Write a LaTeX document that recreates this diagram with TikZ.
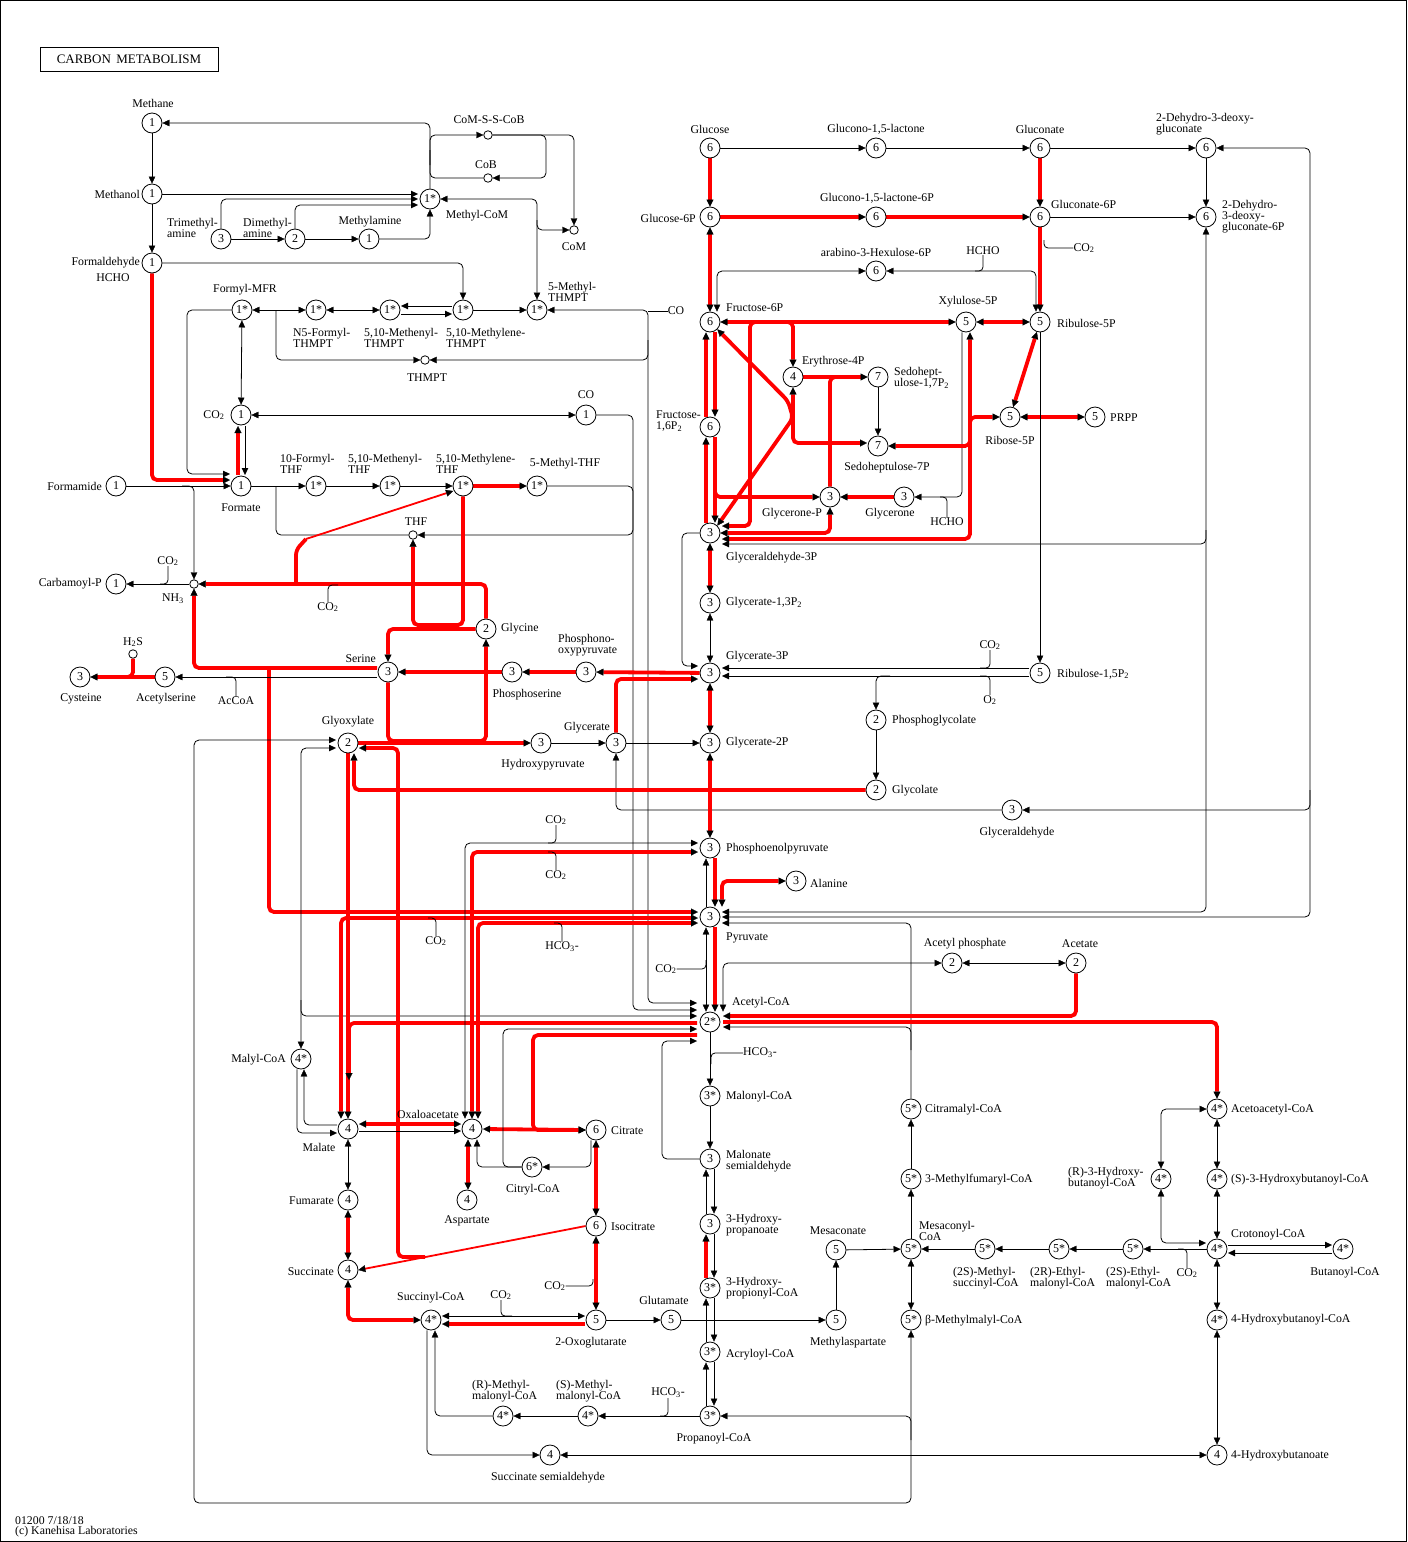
\documentclass[tikz,border=0pt]{standalone}
\usepackage{fontspec}
\setmainfont{Liberation Serif}
\usetikzlibrary{arrows.meta,calc}
\pgfdeclarelayer{bg}
\pgfsetlayers{bg,main}
\begin{document}
\begin{tikzpicture}[x=1pt,y=-1pt,
  >={Triangle[length=7pt,width=6.5pt,line width=0.3pt]},
  ln/.style={line width=0.8pt,rounded corners=5pt},
  rd/.style={draw=red,line width=3.8pt,rounded corners=5pt,>={Triangle[length=7pt,width=7pt,line width=0.3pt,color=black]}},
  rdt/.style={draw=red,line width=1.8pt,>={Triangle[length=7pt,width=7pt,line width=0.3pt,color=black]}},
  cp/.style={circle,draw,line width=0.8pt,minimum size=20pt,inner sep=0pt,font=\fontsize{12}{12}\selectfont,fill=white},
  sm/.style={circle,draw,line width=0.8pt,minimum size=8.5pt,inner sep=0pt,fill=white},
  lab/.style={font=\fontsize{11.8}{11}\selectfont,inner sep=0pt,align=left},
]
\useasboundingbox (0,0) rectangle (1408,1542);
\draw[line width=1pt] (0.5,0.5) rectangle (1406.5,1541.5);
\node[draw,line width=0.8pt,minimum width=178pt,minimum height=24pt,inner sep=0pt,font=\fontsize{13}{13}\selectfont] (title) at (129,59) {CARBON\, METABOLISM};

% ---------- compounds ----------
\node[cp] (meth) at (152,123) {1};
\node[cp] (mol) at (152,194) {1};
\node[cp] (fald) at (152,263) {1};
\node[cp] (tma) at (221,239) {3};
\node[cp] (dma) at (295,239) {2};
\node[cp] (mma) at (369,239) {1};
\node[cp] (mcom) at (430,199) {1*};
\node[sm] (cossc) at (488,135) {};
\node[sm] (cob) at (488,178) {};
\node[sm] (com) at (574,230) {};
\node[cp] (fmfr) at (242,310) {1*};
\node[cp] (n5f) at (316,310) {1*};
\node[cp] (mthmpt) at (390,310) {1*};
\node[cp] (mlthmpt) at (463,310) {1*};
\node[cp] (methmpt) at (537,310) {1*};
\node[sm] (thmpt) at (425,360) {};
\node[cp] (co2a) at (241,415) {1};
\node[cp] (coa) at (586,415) {1};
\node[cp] (formate) at (241,486) {1};
\node[cp] (formamide) at (116,486) {1};
\node[cp] (fthf) at (316,486) {1*};
\node[cp] (mythf) at (390,486) {1*};
\node[cp] (mlthf) at (463,486) {1*};
\node[cp] (methf) at (537,486) {1*};
\node[sm] (thf) at (413,535) {};
\node[sm] (nh3) at (194,584) {};
\node[cp] (cbp) at (116,584) {1};
\node[sm] (h2s) at (133,654) {};
\node[cp] (cys) at (80,677) {3};
\node[cp] (acser) at (165,677) {5};
\node[cp] (ser) at (388,672) {3};
\node[cp] (gly) at (486,629) {2};
\node[cp] (pser) at (512,672) {3};
\node[cp] (pop) at (586,672) {3};
\node[cp] (glx) at (348,743) {2};
\node[cp] (hpyr) at (541,743) {3};
\node[cp] (glyc) at (616,743) {3};

\node[cp] (glc) at (710,148) {6};
\node[cp] (g6p) at (710,217) {6};
\node[cp] (f6p) at (710,322) {6};
\node[cp] (f16p) at (710,427) {6};
\node[cp] (ga3p) at (710,533) {3};
\node[cp] (g13p) at (710,603) {3};
\node[cp] (g3p) at (710,673) {3};
\node[cp] (g2p) at (710,743) {3};
\node[cp] (pep) at (710,848) {3};
\node[cp] (pyr) at (710,917) {3};
\node[cp] (accoa) at (710,1022) {2*};
\node[cp] (malcoa) at (710,1096) {3*};
\node[cp] (msa) at (710,1159) {3};
\node[cp] (hp) at (710,1224) {3};
\node[cp] (hpcoa) at (710,1288) {3*};
\node[cp] (acrcoa) at (710,1352) {3*};
\node[cp] (procoa) at (710,1416) {3*};
\node[cp] (ala) at (796,881) {3};

\node[cp] (gl15) at (876,148) {6};
\node[cp] (gln) at (1040,148) {6};
\node[cp] (kdg) at (1206,148) {6};
\node[cp] (gl15p) at (876,217) {6};
\node[cp] (gln6p) at (1040,217) {6};
\node[cp] (kdpg) at (1206,217) {6};
\node[cp] (hu6p) at (876,271) {6};
\node[cp] (xu5p) at (966,322) {5};
\node[cp] (ru5p) at (1040,322) {5};
\node[cp] (e4p) at (793,377) {4};
\node[cp] (s17p) at (878,377) {7};
\node[cp] (s7p) at (878,446) {7};
\node[cp] (r5p) at (1010,417) {5};
\node[cp] (prpp) at (1095,417) {5};
\node[cp] (dhap) at (830,497) {3};
\node[cp] (glyn) at (904,497) {3};
\node[cp] (rubp) at (1040,673) {5};
\node[cp] (pglyc) at (876,720) {2};
\node[cp] (glyco) at (876,790) {2};
\node[cp] (glyald) at (1012,810) {3};
\node[cp] (acp) at (952,963) {2};
\node[cp] (ace) at (1076,963) {2};

\node[cp] (malyl) at (301,1059) {4*};
\node[cp] (mal) at (348,1129) {4};
\node[cp] (oaa) at (472,1129) {4};
\node[cp] (cit) at (596,1130) {6};
\node[cp] (citcoa) at (532,1167) {6*};
\node[cp] (asp) at (467,1200) {4};
\node[cp] (fum) at (348,1200) {4};
\node[cp] (suc) at (348,1270) {4};
\node[cp] (succoa) at (431,1320) {4*};
\node[cp] (oxg) at (596,1320) {5};
\node[cp] (glu) at (671,1320) {5};
\node[cp] (icit) at (596,1226) {6};
\node[cp] (mas) at (836,1320) {5};
\node[cp] (mesa) at (836,1250) {5};
\node[cp] (rmm) at (503,1416) {4*};
\node[cp] (smm) at (588,1416) {4*};
\node[cp] (ssa) at (550,1455) {4};

\node[cp] (citmcoa) at (911,1109) {5*};
\node[cp] (mfcoa) at (911,1179) {5*};
\node[cp] (mescoa) at (911,1249) {5*};
\node[cp] (bmmcoa) at (911,1320) {5*};
\node[cp] (msucoa) at (985,1249) {5*};
\node[cp] (remcoa) at (1059,1249) {5*};
\node[cp] (semcoa) at (1133,1249) {5*};
\node[cp] (crocoa) at (1217,1249) {4*};
\node[cp] (butcoa) at (1343,1249) {4*};
\node[cp] (aacoa) at (1217,1109) {4*};
\node[cp] (shb) at (1217,1179) {4*};
\node[cp] (rhb) at (1161,1179) {4*};
\node[cp] (hbcoa) at (1217,1320) {4*};
\node[cp] (hb) at (1217,1455) {4};

% ---------- labels ----------
\node[lab] (tMethane) at (153,103) {Methane};
\node[lab,anchor=east] (tMethanol) at (140,194) {Methanol};
\node[lab,anchor=east] (tFald) at (140,263) {Formaldehyde};
\node[lab] (tHCHOa) at (113,278) {HCHO};
\node[lab,anchor=west] (tTMA) at (167,228) {Trimethyl-\\amine};
\node[lab,anchor=west] (tDMA) at (243,228) {Dimethyl-\\amine};
\node[lab] (tMMA) at (370,222) {Methylamine};
\node[lab] (tMCoM) at (477,216) {Methyl-CoM};
\node[lab] (tCoMSS) at (489,120) {CoM-S-S-CoB};
\node[lab] (tCoB) at (486,165) {CoB};
\node[lab] (tCoM) at (574,247) {CoM};
\node[lab] (tFMFR) at (245,290) {Formyl-MFR};
\node[lab,anchor=west] (tN5) at (293,338) {N5-Formyl-\\THMPT};
\node[lab,anchor=west] (tMTHMPT) at (364,338) {5,10-Methenyl-\\THMPT};
\node[lab,anchor=west] (tMLTHMPT) at (446,338) {5,10-Methylene-\\THMPT};
\node[lab,anchor=west] (tMeTHMPT) at (548,292) {5-Methyl-\\THMPT};
\node[lab] (tTHMPT) at (427,378) {THMPT};
\node[lab] (tCO2a) at (214,415) {CO\textsubscript{2}};
\node[lab] (tCOa) at (676,311) {CO};
\node[lab] (tCOb) at (586,395) {CO};
\node[lab] (tFormate) at (241,508) {Formate};
\node[lab,anchor=east] (tFormamide) at (102,486) {Formamide};
\node[lab,anchor=west] (tFTHF) at (280,464) {10-Formyl-\\THF};
\node[lab,anchor=west] (tMYTHF) at (348,464) {5,10-Methenyl-\\THF};
\node[lab,anchor=west] (tMLTHF) at (436,464) {5,10-Methylene-\\THF};
\node[lab] (tMETHF) at (565,464) {5-Methyl-THF};
\node[lab] (tTHF) at (416,522) {THF};
\node[lab] (tNH3) at (173,599) {NH\textsubscript{3}};
\node[lab,anchor=east] (tCbp) at (102,584) {Carbamoyl-P};
\node[lab] (tCO2b) at (168,561) {CO\textsubscript{2}};
\node[lab] (tCO2c) at (328,607) {CO\textsubscript{2}};
\node[lab] (tH2S) at (133,642) {H\textsubscript{2}S};
\node[lab] (tCys) at (81,699) {Cysteine};
\node[lab] (tAcser) at (166,699) {Acetylserine};
\node[lab] (tAcCoA) at (236,701) {AcCoA};
\node[lab,anchor=east] (tSer) at (376,659) {Serine};
\node[lab,anchor=west] (tGly) at (501,629) {Glycine};
\node[lab] (tPser) at (527,695) {Phosphoserine};
\node[lab,anchor=west] (tPop) at (558,645) {Phosphono-\\oxypyruvate};
\node[lab] (tGlx) at (348,722) {Glyoxylate};
\node[lab] (tHpyr) at (543,765) {Hydroxypyruvate};
\node[lab] (tGlyc) at (587,728) {Glycerate};

\node[lab] (tGlc) at (710,129) {Glucose};
\node[lab,anchor=east] (tG6P) at (696,218) {Glucose-6P};
\node[lab,anchor=west] (tF6P) at (726,308) {Fructose-6P};
\node[lab,anchor=west] (tF16P) at (656,421) {Fructose-\\1,6P\textsubscript{2}};
\node[lab,anchor=west] (tGA3P) at (726,558) {Glyceraldehyde-3P};
\node[lab,anchor=west] (tG13P) at (726,603) {Glycerate-1,3P\textsubscript{2}};
\node[lab,anchor=west] (tG3P) at (726,657) {Glycerate-3P};
\node[lab,anchor=west] (tG2P) at (726,743) {Glycerate-2P};
\node[lab,anchor=west] (tPEP) at (726,849) {Phosphoenolpyruvate};
\node[lab,anchor=west] (tAla) at (810,883) {Alanine};
\node[lab,anchor=west] (tPyr) at (726,938) {Pyruvate};
\node[lab,anchor=west] (tAcCoA2) at (732,1003) {Acetyl-CoA};
\node[lab,anchor=west] (tMalCoA) at (726,1097) {Malonyl-CoA};
\node[lab,anchor=west] (tMSA) at (726,1161) {Malonate\\semialdehyde};
\node[lab,anchor=west] (tHP) at (726,1225) {3-Hydroxy-\\propanoate};
\node[lab,anchor=west] (tHPCoA) at (726,1288) {3-Hydroxy-\\propionyl-CoA};
\node[lab,anchor=west] (tAcr) at (726,1355) {Acryloyl-CoA};
\node[lab] (tPro) at (714,1439) {Propanoyl-CoA};
\node[lab,anchor=west] (tSMM) at (556,1391) {(S)-Methyl-\\malonyl-CoA};
\node[lab,anchor=west] (tRMM) at (472,1391) {(R)-Methyl-\\malonyl-CoA};
\node[lab] (tHCO3a) at (668,1393) {HCO\textsubscript{3}-};
\node[lab] (tSucCoA) at (431,1298) {Succinyl-CoA};
\node[lab] (tCO2d) at (501,1295) {CO\textsubscript{2}};
\node[lab] (tOxg) at (591,1343) {2-Oxoglutarate};
\node[lab] (tGlu) at (664,1300) {Glutamate};
\node[lab,anchor=west] (tMas) at (810,1343) {Methylaspartate};
\node[lab] (tMesa) at (838,1231) {Mesaconate};
\node[lab] (tSSA) at (548,1478) {Succinate semialdehyde};
\node[lab,anchor=west] (tHB) at (1231,1456) {4-Hydroxybutanoate};
\node[lab,anchor=west] (tCit) at (611,1131) {Citrate};
\node[lab,anchor=west] (tIcit) at (611,1227) {Isocitrate};
\node[lab] (tCitCoA) at (533,1190) {Citryl-CoA};
\node[lab] (tOAA) at (428,1114) {Oxaloacetate};
\node[lab] (tAsp) at (467,1221) {Aspartate};
\node[lab] (tMal) at (319,1147) {Malate};
\node[lab,anchor=east] (tFum) at (334,1201) {Fumarate};
\node[lab,anchor=east] (tSuc) at (334,1272) {Succinate};
\node[lab,anchor=east] (tMalyl) at (286,1060) {Malyl-CoA};
\node[lab] (tCO2e) at (556,820) {CO\textsubscript{2}};
\node[lab] (tCO2f) at (556,875) {CO\textsubscript{2}};
\node[lab] (tCO2g) at (436,941) {CO\textsubscript{2}};
\node[lab] (tHCO3b) at (562,947) {HCO\textsubscript{3}-};
\node[lab] (tCO2h) at (666,969) {CO\textsubscript{2}};
\node[lab,anchor=west] (tHCO3c) at (743,1053) {HCO\textsubscript{3}-};
\node[lab] (tCO2i) at (555,1286) {CO\textsubscript{2}};
\node[lab] (tAcp) at (965,944) {Acetyl phosphate};
\node[lab] (tAce) at (1080,944) {Acetate};

\node[lab] (tGl15) at (876,129) {Glucono-1,5-lactone};
\node[lab] (tGln) at (1040,129) {Gluconate};
\node[lab,anchor=west] (tKDG) at (1156,124) {2-Dehydro-3-deoxy-\\gluconate};
\node[lab] (tGl15p) at (877,198) {Glucono-1,5-lactone-6P};
\node[lab,anchor=west] (tGln6p) at (1051,204) {Gluconate-6P};
\node[lab,anchor=west] (tKDPG) at (1222,217) {2-Dehydro-\\3-deoxy-\\gluconate-6P};
\node[lab] (tCO2j) at (1084,248) {CO\textsubscript{2}};
\node[lab] (tHu6p) at (876,252) {arabino-3-Hexulose-6P};
\node[lab] (tHCHOb) at (983,251) {HCHO};
\node[lab] (tXu5P) at (968,302) {Xylulose-5P};
\node[lab,anchor=west] (tRu5P) at (1057,323) {Ribulose-5P};
\node[lab,anchor=west] (tE4P) at (802,362) {Erythrose-4P};
\node[lab,anchor=west] (tS17P) at (894,378) {Sedohept-\\ulose-1,7P\textsubscript{2}};
\node[lab] (tS7P) at (887,468) {Sedoheptulose-7P};
\node[lab] (tR5P) at (1010,440) {Ribose-5P};
\node[lab,anchor=west] (tPRPP) at (1110,418) {PRPP};
\node[lab] (tDHAP) at (792,514) {Glycerone-P};
\node[lab] (tGlyn) at (890,514) {Glycerone};
\node[lab] (tHCHOc) at (947,522) {HCHO};
\node[lab,anchor=west] (tRuBP) at (1057,674) {Ribulose-1,5P\textsubscript{2}};
\node[lab] (tCO2k) at (990,645) {CO\textsubscript{2}};
\node[lab] (tO2) at (990,700) {O\textsubscript{2}};
\node[lab,anchor=west] (tPglyc) at (892,721) {Phosphoglycolate};
\node[lab,anchor=west] (tGlyco) at (892,791) {Glycolate};
\node[lab] (tGlyald) at (1017,833) {Glyceraldehyde};

\node[lab,anchor=west] (tCitm) at (925,1110) {Citramalyl-CoA};
\node[lab,anchor=west] (tMf) at (925,1180) {3-Methylfumaryl-CoA};
\node[lab,anchor=west] (tMes) at (919,1231) {Mesaconyl-\\CoA};
\node[lab,anchor=west] (tBmm) at (925,1321) {β-Methylmalyl-CoA};
\node[lab,anchor=west] (tMsu) at (953,1278) {(2S)-Methyl-\\succinyl-CoA};
\node[lab,anchor=west] (tRem) at (1030,1278) {(2R)-Ethyl-\\malonyl-CoA};
\node[lab,anchor=west] (tSem) at (1106,1278) {(2S)-Ethyl-\\malonyl-CoA};
\node[lab] (tCO2l) at (1187,1273) {CO\textsubscript{2}};
\node[lab,anchor=west] (tCro) at (1231,1235) {Crotonoyl-CoA};
\node[lab] (tBut) at (1345,1273) {Butanoyl-CoA};
\node[lab,anchor=west] (tAa) at (1231,1110) {Acetoacetyl-CoA};
\node[lab,anchor=west] (tShb) at (1231,1180) {(S)-3-Hydroxybutanoyl-CoA};
\node[lab,anchor=west] (tRhb) at (1068,1178) {(R)-3-Hydroxy-\\butanoyl-CoA};
\node[lab,anchor=west] (tHbcoa) at (1231,1320) {4-Hydroxybutanoyl-CoA};

\node[lab,anchor=west] (tFoot1) at (15,1521) {01200 7/18/18};
\node[lab,anchor=west] (tFoot2) at (15,1532) {(c) Kanehisa Laboratories};

% ---------- connectors ----------
\begin{pgfonlayer}{bg}
% methane / methanol
\draw[ln,->] (meth) -- (mol);
\draw[ln,->] (mol) -- (fald);
\draw[ln,->] (mol.east) -- ($(mcom)+(-12,-5)$);
\draw[ln,->] (tma.north) |- ($(mcom)+(-12,0)$);
\draw[ln,->] (dma.north) |- ($(mcom)+(-12,6)$);
\draw[ln,->] (tma) -- (dma);
\draw[ln,->] (dma) -- (mma);
\draw[ln,->] (mma.east) -| (mcom.south);
\draw[ln,->] (mcom.north) |- (meth.east);
\draw[ln,->] (430,165) |- (cossc.west);
\draw[ln] (430,150) |- (cob.west);
\draw[ln,->] (cossc.east) -| (546,160) |- (cob.east);
\draw[ln,->] (cossc.east) -| (com.north);
\draw[ln,<->] (mcom.east) -| (methmpt.north);
\draw[ln,->] (537,220) |- (com.west);
% THMPT
\draw[ln,->] (fald.east) -| (mlthmpt.north);
\draw[ln,<->] (fmfr) -- (n5f);
\draw[ln,<->] (n5f) -- (mthmpt);
\draw[ln,->] ($(mlthmpt)+(-11,-4)$) -- ($(mthmpt)+(11,-4)$);
\draw[ln,->] ($(mthmpt)+(11,4)$) -- ($(mlthmpt)+(-11,4)$);
\draw[ln,->] (mlthmpt) -- (methmpt);
\draw[ln,<->] ($(accoa)+(-13,-19)$) -| (648,310) -- (methmpt.east);
\draw[ln,->] (648,340) |- (thmpt.east);
\draw[ln] (tCOa.west) -- (648,311);
\draw[ln,->] (276,310) |- (thmpt.west);
\draw[ln,<->] (fmfr) -- (co2a);
\draw[ln,->] (fmfr.west) -| (187,474) -- ($(formate)+(-11,-12)$);
\draw[rd,->] (fald.south) |- ($(formate)+(-11,-6)$);
\draw[ln,->] (formamide) -- (formate);
\draw[rd,->] ($(formate)+(-3,-11)$) -- ($(co2a)+(-3,11)$);
\draw[ln,->] ($(co2a)+(4,11)$) -- ($(formate)+(4,-11)$);
\draw[ln,<->] (co2a) -- (coa);
\draw[ln,->] (coa.east) -| (633,700) |- ($(accoa)+(-13,-12)$);
% THF
\draw[ln,->] (formate) -- (fthf);
\draw[ln,->] (fthf) -- (mythf);
\draw[ln,->] (mythf) -- (mlthf);
\draw[rd,->] (mlthf) -- (methf);
\draw[ln] (276,486) |- (thf.west);
\draw[ln,->] (methf.east) -| (633,510) |- (thf.east);
\draw[ln,->] (182,486) -| (nh3.north);
\draw[ln,->] (nh3) -- (cbp);
\draw[ln,rounded corners=4pt] (tCO2b.south) |- (160,584);
% glycine / serine
\draw[rd,->] (gly.north) |- (nh3.east);
\draw[rd] (296,584) -- (296,550) -- (306,539);
\draw[rdt,->] (306,539) -- ($(mlthf)+(-10,5)$);
\draw[ln,rounded corners=4pt] (tCO2c.north) |- (338,585);
\draw[rd,->] (gly.west) -| (ser.north);
\draw[rd,->] (mlthf.south) |- (413,625) -- (thf.south);
\draw[rd,->] (ser.south) |- (486,741) -- (gly.south);
\draw[rd,->] (glx) -- (hpyr);
\draw[rd,->] (pser) -- (ser);
\draw[rd,->] (pop) -- (pser);
\draw[rd,->] (g3p) -- (pop);
\draw[rd,->] (glyc.north) |- ($(g3p)+(-12,6)$);
\draw[ln,->] (hpyr) -- (glyc);
\draw[ln,->] (glyc) -- (g2p);
\draw[ln,->] (glyald.west) -| (glyc.south);
\draw[ln,->] (ga3p.west) -| (682,600) |- ($(g3p)+(-12,-7)$);
\draw[rd,->] ($(ser)+(-11,-4)$) -| (nh3.south);
\draw[rd,->] (269,668) |- ($(pyr)+(-12,-5)$);
\draw[ln,->] ($(ser)+(-11,5)$) -- (acser);
\draw[ln,rounded corners=4pt] (tAcCoA.north) |- (226,677);
\draw[rd,->] (acser) -- (cys);
\draw[rd] (h2s.south) |- (122,677);
% glyoxylate
\draw[ln,<->] ($(glx)+(-12,-3)$) -| (194,1100) |- (911,1503) -- (bmmcoa.south);
\draw[ln,->] (911,1440) |- (procoa.east);
\draw[ln,<->] ($(glx)+(-12,5)$) -| (malyl.north);
\draw[ln,->] (301,1000) |- ($(accoa)+(-13,-6)$);
\draw[ln,->] ($(mal)+(-11,-4)$) -| ($(malyl.south)+(3,0)$);
\draw[ln,->] ($(malyl.south)+(-4,0)$) |- ($(mal)+(-11,4)$);
\draw[rd,->] (glyco.west) -| ($(glx.south)+(6,0)$);
\draw[rd,->] (glx.south) -- (mal.north);
\draw[rd,->] ($(accoa)+(-13,1)$) -| (349,1080);
\draw[rd,<->] ($(pyr)+(-12,1)$) -| ($(mal.north)+(-7,0)$);
\draw[ln,rounded corners=4pt] (tCO2g.north) |- (428,918);
\draw[rd,<->] ($(pyr)+(-12,6)$) -| ($(oaa.north)+(6,0)$);
\draw[ln,rounded corners=4pt] (tHCO3b.north) |- (554,923);
\draw[ln,<->] ($(pep)+(-12,-5)$) -| ($(oaa.north)+(-7,0)$);
\draw[rd,<->] ($(pep)+(-12,4)$) -| (oaa.north);
\draw[ln,rounded corners=4pt] (tCO2e.south) |- (548,843);
\draw[ln,rounded corners=4pt] (tCO2f.north) |- (548,852);
\draw[rdt,->] (icit.west) -- (suc.east);
\draw[rd,->] (425,1257) -| (398,800) |- ($(glx)+(11,5)$);
% TCA
\draw[rd,<->] ($(mal)+(11,-5)$) -- ($(oaa)+(-11,-5)$);
\draw[ln,->] ($(mal)+(11,2)$) -- ($(oaa)+(-11,2)$);
\draw[ln,<->] (mal) -- (fum);
\draw[rd,<->] (fum) -- (suc);
\draw[rd,<->] (suc.south) |- (succoa.west);
\draw[ln,<->] ($(succoa)+(11,-4)$) -- ($(oxg)+(-11,-4)$);
\draw[ln,rounded corners=4pt] (tCO2d.south) |- (512,1316);
\draw[rd,->] ($(oxg)+(-11,4)$) -- ($(succoa)+(11,4)$);
\draw[rd,<->] (icit) -- (oxg);
\draw[ln,rounded corners=4pt] (tCO2i.east) -| (593,1279);
\draw[rd,<->] (cit) -- (icit);
\draw[rd,<->] ($(oaa)+(11,0)$) -- (cit.west);
\draw[rd,->] ($(accoa)+(-13,13)$) -| (533,1130) -- (cit.west);
\draw[ln,->] ($(cit.south)+(-5,0)$) |- (citcoa.east);
\draw[ln,->] (citcoa.west) -| ($(oaa.south)+(5,0)$);
\draw[ln,->] (citcoa.west) -| (503,1100) |- ($(accoa)+(-13,7)$);
\draw[rd,<->] ($(oaa.south)+(-4,0)$) -- ($(asp.north)+(1,0)$);
\draw[ln,->] (msa.west) -| (662,1100) |- ($(accoa)+(-13,19)$);
% 3-HP chain
\draw[ln,->] (accoa) -- (malcoa);
\draw[ln,rounded corners=4pt] (tHCO3c.west) -| (711,1064);
\draw[ln,->] (malcoa) -- (msa);
\draw[ln,->] ($(hp.north)+(-4,0)$) -- ($(msa.south)+(-4,0)$);
\draw[ln,->] ($(msa.south)+(4,0)$) -- ($(hp.north)+(4,0)$);
\draw[rd,->] ($(hpcoa.north)+(-4,0)$) -- ($(hp.south)+(-4,0)$);
\draw[ln,->] ($(hp.south)+(4,0)$) -- ($(hpcoa.north)+(4,0)$);
\draw[ln,->] ($(acrcoa.north)+(-4,0)$) -- ($(hpcoa.south)+(-4,0)$);
\draw[ln,->] ($(hpcoa.south)+(4,0)$) -- ($(acrcoa.north)+(4,0)$);
\draw[ln,->] ($(procoa.north)+(-4,0)$) -- ($(acrcoa.south)+(-4,0)$);
\draw[ln,->] ($(acrcoa.south)+(4,0)$) -- ($(procoa.north)+(4,0)$);
\draw[ln,->] (procoa) -- (smm);
\draw[ln,rounded corners=4pt] (tHCO3a.south) |- (660,1416);
\draw[ln,->] (smm) -- (rmm);
\draw[ln,->] (rmm.west) -| ($(succoa.south)+(4,0)$);
\draw[ln,->] ($(succoa.south)+(-4,0)$) |- (ssa.west);
\draw[ln,<->] (ssa) -- (hb);
\draw[ln,->] (oxg) -- (glu);
\draw[ln,->] (glu) -- (mas);
\draw[ln,->] (mas) -- (mesa);
\draw[ln,->] (mesa) -- (mescoa);
\draw[ln,<->] (mescoa) -- (bmmcoa);
\draw[ln,->] (mescoa) -- (mfcoa);
\draw[ln,->] (mfcoa) -- (citmcoa);
\draw[ln,->] (citmcoa.north) |- ($(pyr)+(12,6)$);
\draw[ln,->] (911,1050) |- ($(accoa)+(13,5)$);
\draw[ln,->] (msucoa) -- (mescoa);
\draw[ln,->] (remcoa) -- (msucoa);
\draw[ln,->] (semcoa) -- (remcoa);
\draw[ln,->] (crocoa) -- (semcoa);
\draw[ln,rounded corners=4pt] (tCO2l.north) |- (1178,1249);
\draw[ln,->] ($(crocoa)+(11,-4)$) -- ($(butcoa)+(-11,-4)$);
\draw[ln,->] ($(butcoa)+(-11,4)$) -- ($(crocoa)+(11,4)$);
\draw[ln,<->] (aacoa) -- (shb);
\draw[ln,<->] (shb) -- (crocoa);
\draw[ln,<->] (crocoa) -- (hbcoa);
\draw[ln,<->] (hbcoa) -- (hb);
\draw[ln,<->] (aacoa.west) -| (rhb.north);
\draw[ln,<->] (rhb.south) |- ($(crocoa)+(-11,-6)$);
\draw[rd,->] ($(accoa)+(13,0)$) -| (aacoa.north);
\draw[rd,->] (ace.south) |- ($(accoa)+(13,-6)$);
\draw[ln,<->] (acp) -- (ace);
\draw[ln,<->] (acp.west) -| ($(accoa.north)+(13,0)$);
\draw[ln,<->] ($(pyr.south)+(-4,0)$) -- ($(accoa.north)+(-4,0)$);
\draw[rd,->] ($(pyr.south)+(5,0)$) -- ($(accoa.north)+(5,0)$);
\draw[ln,rounded corners=4pt] (tCO2h.east) -| (706,960);
\draw[ln,->] ($(pyr.north)+(-4,0)$) -- ($(pep.south)+(-4,0)$);
\draw[rd,->] ($(pep.south)+(5,0)$) -- ($(pyr.north)+(5,0)$);
\draw[rd,<->] ($(pyr.north)+(12,0)$) |- (ala.west);
% glycolysis / PPP
\draw[rd,->] (glc) -- (g6p);
\draw[rd,<->] (g6p) -- (f6p);
\draw[rd,->] (g6p) -- (gl15p);
\draw[rd,->] (gl15p) -- (gln6p);
\draw[ln,->] (glc) -- (gl15);
\draw[ln,->] (gl15) -- (gln);
\draw[ln,->] (gln) -- (kdg);
\draw[rd,->] (gln) -- (gln6p);
\draw[ln,->] (gln6p) -- (kdpg);
\draw[ln,->] (kdg) -- (kdpg);
\draw[rd,->] (gln6p) -- (ru5p);
\draw[ln,rounded corners=4pt] (tCO2j.west) -| (1044,240);
\draw[ln,<->] ($(ru5p.north)+(-4,0)$) |- (hu6p.east);
\draw[ln,<->] (hu6p.west) -| ($(f6p.north)+(7,0)$);
\draw[ln,rounded corners=4pt] (tHCHOb.south) |- (975,271);
\draw[rd,<->] (f6p) -- (xu5p);
\draw[rd,<->] (xu5p) -- (ru5p);
\draw[rd,<->] (ru5p) -- (r5p);
\draw[rd,<->] (r5p) -- (prpp);
\draw[ln,->] (ru5p) -- (rubp);
\draw[rd,->] ($(f16p.north)+(-4,0)$) -- ($(f6p.south)+(-4,0)$);
\draw[rd,->] ($(f6p.south)+(5,0)$) -- ($(f16p.north)+(5,0)$);
\draw[rd,->] ($(ga3p.north)+(-4,0)$) -- ($(f16p.south)+(-4,0)$);
\draw[rd,->] ($(f16p.south)+(5,0)$) -- ($(ga3p.north)+(5,0)$);
\draw[rd,->] ($(f16p.south)+(5,0)$) |- (dhap.west);
\draw[rd,<->] (dhap.south) |- (ga3p.east);
\draw[rd,->] (glyn) -- (dhap);
\draw[ln,->] ($(xu5p.south)+(-4,0)$) |- (glyn.east);
\draw[ln,rounded corners=4pt] (tHCHOc.north) |- (940,497);
\draw[rd,->] (740,322) -| (e4p.north);
\draw[rd,->] (765,322) -| (750,480) |- ($(ga3p)+(12,-7)$);
\draw[rd,<->] ($(xu5p.south)+(4,0)$) |- ($(ga3p)+(12,6)$);
\draw[rd,->] (970,432) |- (r5p.west);
\draw[rd,->] (970,432) |- (s7p.east);
\draw[rd,->] (e4p) -- (s17p);
\draw[rd] (dhap.north) |- (850,377);
\draw[ln,->] (s17p) -- (s7p);
\draw[rd,<->] (e4p.south) |- ($(s7p)+(-11,-3)$);
\draw[rd,<->] (f6p.south east) -- (788,401) -- (793,418) -- (ga3p.north east);
\draw[ln,<->] (kdpg.south) |- ($(ga3p)+(12,11)$);
\draw[ln,->] (1206,530) |- ($(pyr)+(12,-5)$);
\draw[ln,<->] (kdg.east) -| (1310,500) |- (glyald.east);
\draw[ln,->] (1310,790) |- ($(pyr)+(12,0)$);
\draw[rd,<->] (ga3p) -- (g13p);
\draw[ln,<->] (g13p) -- (g3p);
\draw[rd,<->] (g3p) -- (g2p);
\draw[rd,<->] (g2p) -- (pep);
\draw[ln,->] ($(rubp)+(-11,-5)$) -- ($(g3p)+(12,-5)$);
\draw[ln,->] ($(rubp)+(-11,3)$) -- ($(g3p)+(12,3)$);
\draw[ln,rounded corners=4pt] (tCO2k.south) |- (980,668);
\draw[ln,rounded corners=4pt] (tO2.north) |- (980,676);
\draw[ln,->] (890,676) -| (pglyc.north);
\draw[ln,->] (pglyc) -- (glyco);
\end{pgfonlayer}
\end{tikzpicture}
\end{document}
